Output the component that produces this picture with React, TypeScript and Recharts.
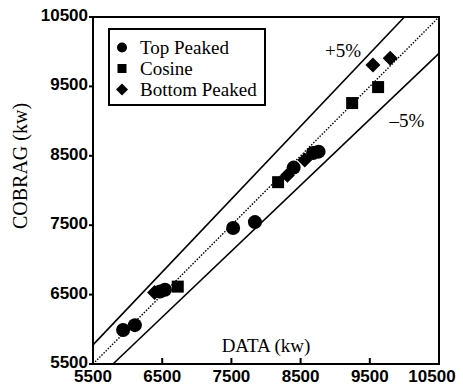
import React from 'react';
import {
  ScatterChart,
  Scatter,
  XAxis,
  YAxis,
  ReferenceLine,
  ReferenceArea,
  ReferenceDot,
} from 'recharts';

// measured (DATA) vs calculated (COBRAG) power, kw
const topPeaked = [
  { data: 5935, cobrag: 5990 },
  { data: 6105, cobrag: 6060 },
  { data: 6470, cobrag: 6545 },
  { data: 6540, cobrag: 6570 },
  { data: 7525, cobrag: 7460 },
  { data: 7840, cobrag: 7545 },
  { data: 8400, cobrag: 8330 },
  { data: 8680, cobrag: 8540 },
  { data: 8760, cobrag: 8560 },
];

const cosine = [
  { data: 6725, cobrag: 6615 },
  { data: 8175, cobrag: 8120 },
  { data: 9245, cobrag: 9260 },
  { data: 9620, cobrag: 9490 },
];

const bottomPeaked = [
  { data: 6390, cobrag: 6530 },
  { data: 8310, cobrag: 8220 },
  { data: 8560, cobrag: 8440 },
  { data: 9545, cobrag: 9810 },
  { data: 9795, cobrag: 9905 },
];

const ticks = [5500, 6500, 7500, 8500, 9500, 10500];

// +5% / exact / -5% guide lines
const plusFive = [{ x: 5500, y: 5775 }, { x: 10000, y: 10500 }];
const exact = [{ x: 5500, y: 5500 }, { x: 10500, y: 10500 }];
const minusFive = [{ x: 5789, y: 5500 }, { x: 10500, y: 9975 }];

const serif = '"Liberation Serif", "DejaVu Serif", serif';
const sans = '"Liberation Sans", Arial, sans-serif';

const Dot = ({ cx, cy }: any) => <circle cx={cx} cy={cy} r={7} fill="#000" />;
const Square = ({ cx, cy }: any) => (
  <rect x={cx - 6} y={cy - 6} width={12} height={12} fill="#000" />
);
const Diamond = ({ cx, cy }: any) => (
  <polygon
    points={`${cx},${cy - 7.5} ${cx + 7.5},${cy} ${cx},${cy + 7.5} ${cx - 7.5},${cy}`}
    fill="#000"
  />
);

const XTick = ({ x, y, payload }: any) => {
  const shift = payload.value === 10500 ? -7 : 0;
  return (
    <g>
      <line x1={x} x2={x} y1={y} y2={y - 6} stroke="#000" strokeWidth={2} />
      <text
        x={x + shift}
        y={y + 18}
        textAnchor="middle"
        fontFamily={sans}
        fontWeight="bold"
        fontSize={17}
        fill="#000"
      >
        {payload.value}
      </text>
    </g>
  );
};

const YTick = ({ x, y, payload }: any) => (
  <text
    x={x}
    y={y - 2}
    dy="0.355em"
    textAnchor="end"
    fontFamily={sans}
    fontWeight="bold"
    fontSize={17}
    fill="#000"
  >
    {payload.value}
  </text>
);

const YLabel = () => {
  const x = 20;
  const y = 166;
  return (
    <text
      x={x}
      y={y}
      transform={`rotate(-90 ${x} ${y})`}
      textAnchor="middle"
      dominantBaseline="central"
      fontFamily={serif}
      fontSize={20}
      fill="#000"
    >
      COBRAG (kw)
    </text>
  );
};

const legendItems = [
  { name: 'Top Peaked', marker: 'circle' },
  { name: 'Cosine', marker: 'square' },
  { name: 'Bottom Peaked', marker: 'diamond' },
];

const LegendBox = () => (
  <div
    style={{
      position: 'absolute',
      left: 108,
      top: 28,
      width: 158,
      height: 78,
      boxSizing: 'border-box',
      border: '2px solid #000',
      background: '#fff',
      paddingTop: 7,
      fontFamily: serif,
      fontSize: 19,
      color: '#000',
    }}
  >
    {legendItems.map((item) => (
      <div key={item.name} style={{ display: 'flex', alignItems: 'center', height: 21 }}>
        <svg width={30} height={21}>
          {item.marker === 'circle' && <circle cx={12} cy={10.5} r={5} fill="#000" />}
          {item.marker === 'square' && <rect x={7.5} y={6} width={9} height={9} fill="#000" />}
          {item.marker === 'diamond' && (
            <polygon points="12,4.5 18,10.5 12,16.5 6,10.5" fill="#000" />
          )}
        </svg>
        <span style={{ lineHeight: '21px', whiteSpace: 'nowrap' }}>{item.name}</span>
      </div>
    ))}
  </div>
);

export default function App() {
  return (
    <div style={{ position: 'absolute', left: 0, top: 0, width: 463, height: 385, background: '#fff' }}>
      <ScatterChart
        width={463}
        height={385}
        margin={{ top: 17, right: 24, bottom: 0, left: 0 }}
      >
        <XAxis
          type="number"
          dataKey="data"
          domain={[5500, 10500]}
          ticks={ticks}
          height={21}
          tickSize={0}
          tickMargin={0}
          tickLine={false}
          tick={<XTick />}
          axisLine={{ stroke: '#000', strokeWidth: 2 }}
          interval={0}
          label={{
            value: 'DATA (kw)',
            position: 'top',
            offset: 12,
            fontFamily: serif,
            fontSize: 19,
            fill: '#000',
          }}
        />
        <YAxis
          type="number"
          dataKey="cobrag"
          domain={[5500, 10500]}
          ticks={ticks}
          width={93}
          interval={0}
          tickSize={4}
          tickMargin={1}
          tickLine={{ stroke: '#000', strokeWidth: 2 }}
          axisLine={{ stroke: '#000', strokeWidth: 2 }}
          tick={<YTick />}
          label={<YLabel />}
        />
        <ReferenceArea
          x1={5500}
          x2={10500}
          y1={5500}
          y2={10500}
          fill="none"
          stroke="#000"
          strokeWidth={2}
        />
        <ReferenceLine segment={plusFive} stroke="#000" strokeWidth={1.6} />
        <ReferenceLine
          segment={exact}
          stroke="#000"
          strokeWidth={1.4}
          strokeDasharray="1.5 1.5"
        />
        <ReferenceLine segment={minusFive} stroke="#000" strokeWidth={1.6} />
        <ReferenceDot
          x={9113}
          y={10024}
          r={0}
          fill="none"
          stroke="none"
          label={{ value: '+5%', position: 'center', fontFamily: serif, fontSize: 19, fill: '#000' }}
        />
        <ReferenceDot
          x={10037}
          y={9016}
          r={0}
          fill="none"
          stroke="none"
          label={{ value: '\u20135%', position: 'center', fontFamily: serif, fontSize: 19, fill: '#000' }}
        />
        <Scatter name="Top Peaked" data={topPeaked} shape={<Dot />} isAnimationActive={false} />
        <Scatter name="Cosine" data={cosine} shape={<Square />} isAnimationActive={false} />
        <Scatter
          name="Bottom Peaked"
          data={bottomPeaked}
          shape={<Diamond />}
          isAnimationActive={false}
        />
      </ScatterChart>
      <LegendBox />
    </div>
  );
}
